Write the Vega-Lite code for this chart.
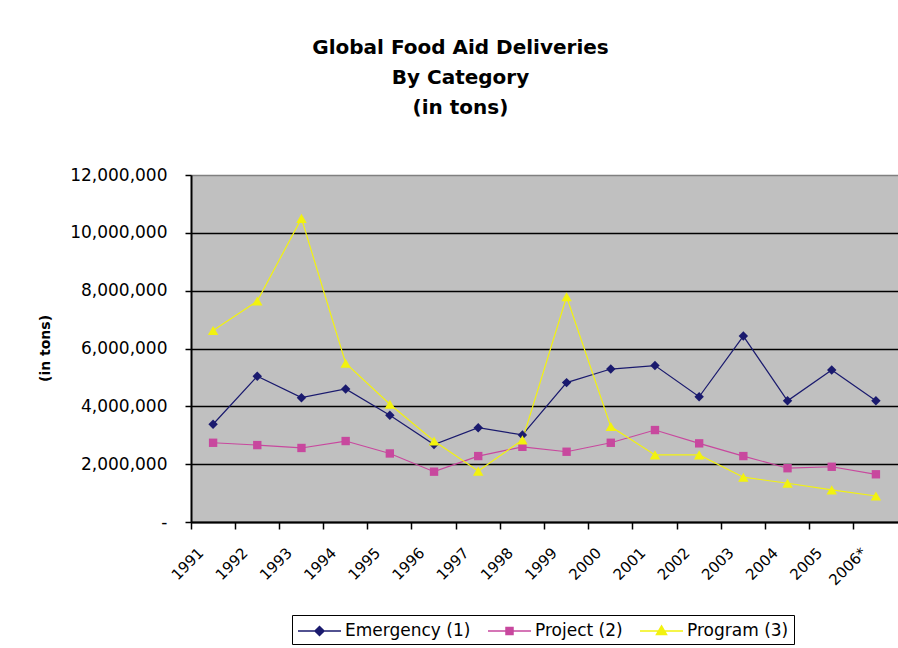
{
  "$schema": "https://vega.github.io/schema/vega-lite/v6.json",
  "autosize": {"type": "none"},
  "padding": {"left": 191, "top": 175, "right": 0, "bottom": 126},
  "width": 707,
  "height": 347,
  "background": "white",
  "title": {
    "text": ["Global Food Aid Deliveries", "By Category", "(in tons)"],
    "font": "DejaVu Sans",
    "fontSize": 20,
    "fontWeight": "bold",
    "lineHeight": 30,
    "anchor": "middle",
    "dx": -84,
    "offset": 48,
    "color": "black"
  },
  "data": {
    "values": [
      {"year": "1991", "series": "Emergency (1)", "value": 3380000},
      {"year": "1992", "series": "Emergency (1)", "value": 5040000},
      {"year": "1993", "series": "Emergency (1)", "value": 4300000},
      {"year": "1994", "series": "Emergency (1)", "value": 4600000},
      {"year": "1995", "series": "Emergency (1)", "value": 3690000},
      {"year": "1996", "series": "Emergency (1)", "value": 2680000},
      {"year": "1997", "series": "Emergency (1)", "value": 3260000},
      {"year": "1998", "series": "Emergency (1)", "value": 3010000},
      {"year": "1999", "series": "Emergency (1)", "value": 4820000},
      {"year": "2000", "series": "Emergency (1)", "value": 5290000},
      {"year": "2001", "series": "Emergency (1)", "value": 5410000},
      {"year": "2002", "series": "Emergency (1)", "value": 4330000},
      {"year": "2003", "series": "Emergency (1)", "value": 6430000},
      {"year": "2004", "series": "Emergency (1)", "value": 4190000},
      {"year": "2005", "series": "Emergency (1)", "value": 5260000},
      {"year": "2006*", "series": "Emergency (1)", "value": 4190000},
      {"year": "1991", "series": "Project (2)", "value": 2740000},
      {"year": "1992", "series": "Project (2)", "value": 2660000},
      {"year": "1993", "series": "Project (2)", "value": 2560000},
      {"year": "1994", "series": "Project (2)", "value": 2800000},
      {"year": "1995", "series": "Project (2)", "value": 2370000},
      {"year": "1996", "series": "Project (2)", "value": 1740000},
      {"year": "1997", "series": "Project (2)", "value": 2280000},
      {"year": "1998", "series": "Project (2)", "value": 2600000},
      {"year": "1999", "series": "Project (2)", "value": 2430000},
      {"year": "2000", "series": "Project (2)", "value": 2740000},
      {"year": "2001", "series": "Project (2)", "value": 3180000},
      {"year": "2002", "series": "Project (2)", "value": 2720000},
      {"year": "2003", "series": "Project (2)", "value": 2280000},
      {"year": "2004", "series": "Project (2)", "value": 1860000},
      {"year": "2005", "series": "Project (2)", "value": 1910000},
      {"year": "2006*", "series": "Project (2)", "value": 1650000},
      {"year": "1991", "series": "Program (3)", "value": 6620000},
      {"year": "1992", "series": "Program (3)", "value": 7640000},
      {"year": "1993", "series": "Program (3)", "value": 10500000},
      {"year": "1994", "series": "Program (3)", "value": 5490000},
      {"year": "1995", "series": "Program (3)", "value": 4070000},
      {"year": "1996", "series": "Program (3)", "value": 2800000},
      {"year": "1997", "series": "Program (3)", "value": 1760000},
      {"year": "1998", "series": "Program (3)", "value": 2840000},
      {"year": "1999", "series": "Program (3)", "value": 7790000},
      {"year": "2000", "series": "Program (3)", "value": 3300000},
      {"year": "2001", "series": "Program (3)", "value": 2320000},
      {"year": "2002", "series": "Program (3)", "value": 2320000},
      {"year": "2003", "series": "Program (3)", "value": 1550000},
      {"year": "2004", "series": "Program (3)", "value": 1340000},
      {"year": "2005", "series": "Program (3)", "value": 1110000},
      {"year": "2006*", "series": "Program (3)", "value": 900000}
    ]
  },
  "config": {
    "view": {"fill": "#C0C0C0", "stroke": "#808080", "strokeWidth": 1},
    "axis": {"labelColor": "black", "titleColor": "black"}
  },
  "encoding": {
    "x": {
      "field": "year",
      "type": "nominal",
      "sort": null,
      "scale": {"type": "band", "paddingInner": 0, "paddingOuter": 0},
      "axis": {
        "title": null,
        "bandPosition": 0,
        "grid": false,
        "domainColor": "black",
        "domainWidth": 2,
        "tickColor": "black",
        "tickSize": 7,
        "tickWidth": 1.5,
        "labelAngle": -45,
        "labelAlign": "right",
        "labelBaseline": "middle",
        "labelOffset": -12,
        "labelPadding": 21,
        "labelFont": "DejaVu Sans",
        "labelFontSize": 15
      }
    },
    "y": {
      "field": "value",
      "type": "quantitative",
      "scale": {"domain": [0, 12000000], "nice": false},
      "axis": {
        "values": [0, 2000000, 4000000, 6000000, 8000000, 10000000, 12000000],
        "labelExpr": "datum.value == 0 ? '-' : format(datum.value, ',')",
        "title": "(in tons)",
        "titleFont": "DejaVu Sans",
        "titleFontSize": 14,
        "titleFontWeight": "bold",
        "titleX": -146,
        "titleY": 173,
        "titleAngle": -90,
        "titleAlign": "center",
        "titleBaseline": "middle",
        "grid": true,
        "gridColor": {"condition": {"test": "datum.value == 12000000", "value": "#808080"}, "value": "black"},
        "gridWidth": 1.5,
        "domainColor": "black",
        "domainWidth": 2,
        "tickColor": "black",
        "tickSize": 6,
        "tickWidth": 1.5,
        "labelPadding": 18,
        "labelFont": "DejaVu Sans",
        "labelFontSize": 17
      }
    },
    "color": {
      "field": "series",
      "type": "nominal",
      "scale": {
        "domain": ["Emergency (1)", "Project (2)", "Program (3)"],
        "range": ["#1A1A6E", "#C8489E", "#F2F20F"]
      },
      "legend": {
        "title": null,
        "orient": "none",
        "legendX": 101,
        "legendY": 440,
        "direction": "horizontal",
        "strokeColor": "black",
        "fillColor": "white",
        "padding": 5,
        "symbolSize": 400,
        "symbolStrokeWidth": 1.5,
        "labelOffset": 26,
        "columnPadding": 14,
        "labelFont": "DejaVu Sans",
        "labelFontSize": 17,
        "labelColor": "black",
        "labelLimit": 300,
        "encode": {
          "symbols": {
            "update": {
              "shape": {"signal": "datum.value === 'Emergency (1)' ? 'M-1,0H3.3M1.15,-0.45L1.6,0L1.15,0.45L0.7,0Z' : datum.value === 'Project (2)' ? 'M-1,0H3.3M0.8,-0.35H1.5V0.35H0.8Z' : 'M-1,0H3.3M1.15,-0.5L1.65,0.35H0.65Z'"},
              "fill": {"scale": "color", "field": "value"},
              "stroke": {"scale": "color", "field": "value"},
              "strokeWidth": {"value": 1.5},
              "opacity": {"value": 1}
            }
          }
        }
      }
    }
  },
  "layer": [
    {
      "mark": {"type": "line", "strokeWidth": 1.2}
    },
    {
      "transform": [{"filter": "datum.series === 'Emergency (1)'"}],
      "mark": {"type": "point", "filled": true, "size": 90, "opacity": 1, "shape": "diamond"}
    },
    {
      "transform": [{"filter": "datum.series === 'Project (2)'"}],
      "mark": {"type": "point", "filled": true, "size": 70, "opacity": 1, "shape": "square"}
    },
    {
      "transform": [{"filter": "datum.series === 'Program (3)'"}],
      "mark": {"type": "point", "filled": true, "size": 110, "opacity": 1, "shape": "triangle-up"}
    }
  ]
}
